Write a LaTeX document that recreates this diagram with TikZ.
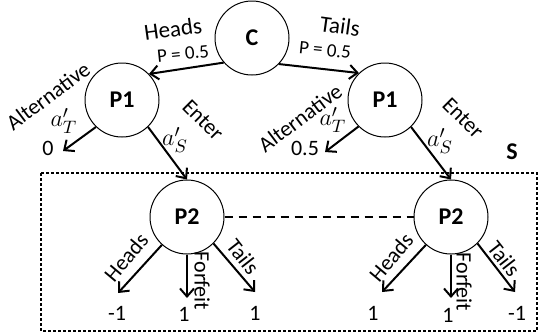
\documentclass[tikz,border=0pt]{standalone}
\usepackage{fontspec}
\setmainfont{Carlito}
\usetikzlibrary{arrows.meta}

\begin{document}
\begin{tikzpicture}[
  x=0.5pt, y=-0.5pt,
  player/.style={circle, draw, line width=0.5pt, minimum size=37pt,
                 inner sep=0pt, font=\fontsize{12}{14}\selectfont\bfseries},
  arr/.style={-{Straight Barb[length=4pt, width=7pt, line width=1pt]}, line width=1pt},
  lbl/.style={font=\fontsize{11}{13}\selectfont, inner sep=0pt},
  chlbl/.style={font=\fontsize{11.5}{13}\selectfont, inner sep=0pt},
  prob/.style={font=\fontsize{9.5}{11}\selectfont, inner sep=0pt},
  val/.style={font=\fontsize{11}{13}\selectfont, inner sep=0pt},
  act/.style={font=\fontsize{13}{15}\selectfont, inner sep=0pt}
]
  \useasboundingbox (0,0) rectangle (545,334);

  % subgame box
  \draw[line width=1.3pt, dash pattern=on 1.3pt off 1.2pt] (41,173) rectangle (537,331);
  \node[font=\fontsize{12}{14}\selectfont\bfseries] (sub) at (512,152) {S};

  % chance and players
  \node[player] (chance) at (252,38)  {C};
  \node[player] (p1h)    at (122,100) {P1};
  \node[player] (p1t)    at (385,100) {P1};
  \node[player] (p2h)    at (187,217) {P2};
  \node[player] (p2t)    at (451,217) {P2};

  % free arrow ends
  \coordinate (endA) at (63,151);
  \coordinate (endB) at (325,152);
  \coordinate (hhA) at (118,293);
  \coordinate (hfA) at (187,298);
  \coordinate (htA) at (255,292);
  \coordinate (thA) at (382,292);
  \coordinate (tfA) at (451,298);
  \coordinate (ttA) at (515,292);

  % payoffs
  \node[val] (v0)  at (48,148)  {0};
  \node[val] (v05) at (305,148) {0.5};
  \node[val] (hh)  at (117,313) {-1};
  \node[val] (hf)  at (184,314) {1};
  \node[val] (ht)  at (255,313) {1};
  \node[val] (th)  at (373,313) {1};
  \node[val] (tf)  at (448,315) {1};
  \node[val] (tt)  at (517,313) {-1};

  % chance moves
  \draw[arr] (chance.221) -- (p1h.44);
  \draw[arr] (chance.316) -- (p1t.134);
  \node[chlbl, rotate=8]  (lh)  at (173,29) {Heads};
  \node[prob, rotate=6]   (ph)  at (183,54) {P = 0.5};
  \node[chlbl, rotate=-8] (lt)  at (340,26) {Tails};
  \node[prob, rotate=-6]  (pt)  at (325,50) {P = 0.5};

  % first player moves
  \draw[arr] (p1h.226) -- (endA);
  \draw[arr] (p1h.314) -- (p2h.north);
  \draw[arr] (p1t.225) -- (endB);
  \draw[arr] (p1t.314) -- (p2t.north);
  \node[lbl, rotate=37]  (altA) at (48,96)   {Alternative};
  \node[lbl, rotate=37]  (altB) at (300,118) {Alternative};
  \node[lbl, rotate=-45] (entA) at (203,120) {Enter};
  \node[lbl, rotate=-45] (entB) at (463,118) {Enter};
  \node[act] (aTA) at (64,121)  {$a'_T$};
  \node[act] (aSA) at (175,140) {$a'_S$};
  \node[act] (aTB) at (333,120) {$a'_T$};
  \node[act] (aSB) at (440,141) {$a'_S$};

  % information set
  \draw[line width=0.8pt, dash pattern=on 4pt off 3pt] (p2h.east) -- (p2t.west);

  % second player moves
  \draw[arr] (p2h.228) -- (hhA);
  \draw[arr] (p2h.south) -- (hfA);
  \draw[arr] (p2h.315) -- (htA);
  \draw[arr] (p2t.228) -- (thA);
  \draw[arr] (p2t.south) -- (tfA);
  \draw[arr] (p2t.315) -- (ttA);
  \node[lbl, rotate=50]  (hdA) at (126,257) {Heads};
  \node[lbl, rotate=-90] (ffA) at (202,281) {Forfeit};
  \node[lbl, rotate=-52] (tlA) at (243,257) {Tails};
  \node[lbl, rotate=50]  (hdB) at (391,257) {Heads};
  \node[lbl, rotate=-90] (ffB) at (464,282) {Forfeit};
  \node[lbl, rotate=-52] (tlB) at (504,259) {Tails};
\end{tikzpicture}
\end{document}
